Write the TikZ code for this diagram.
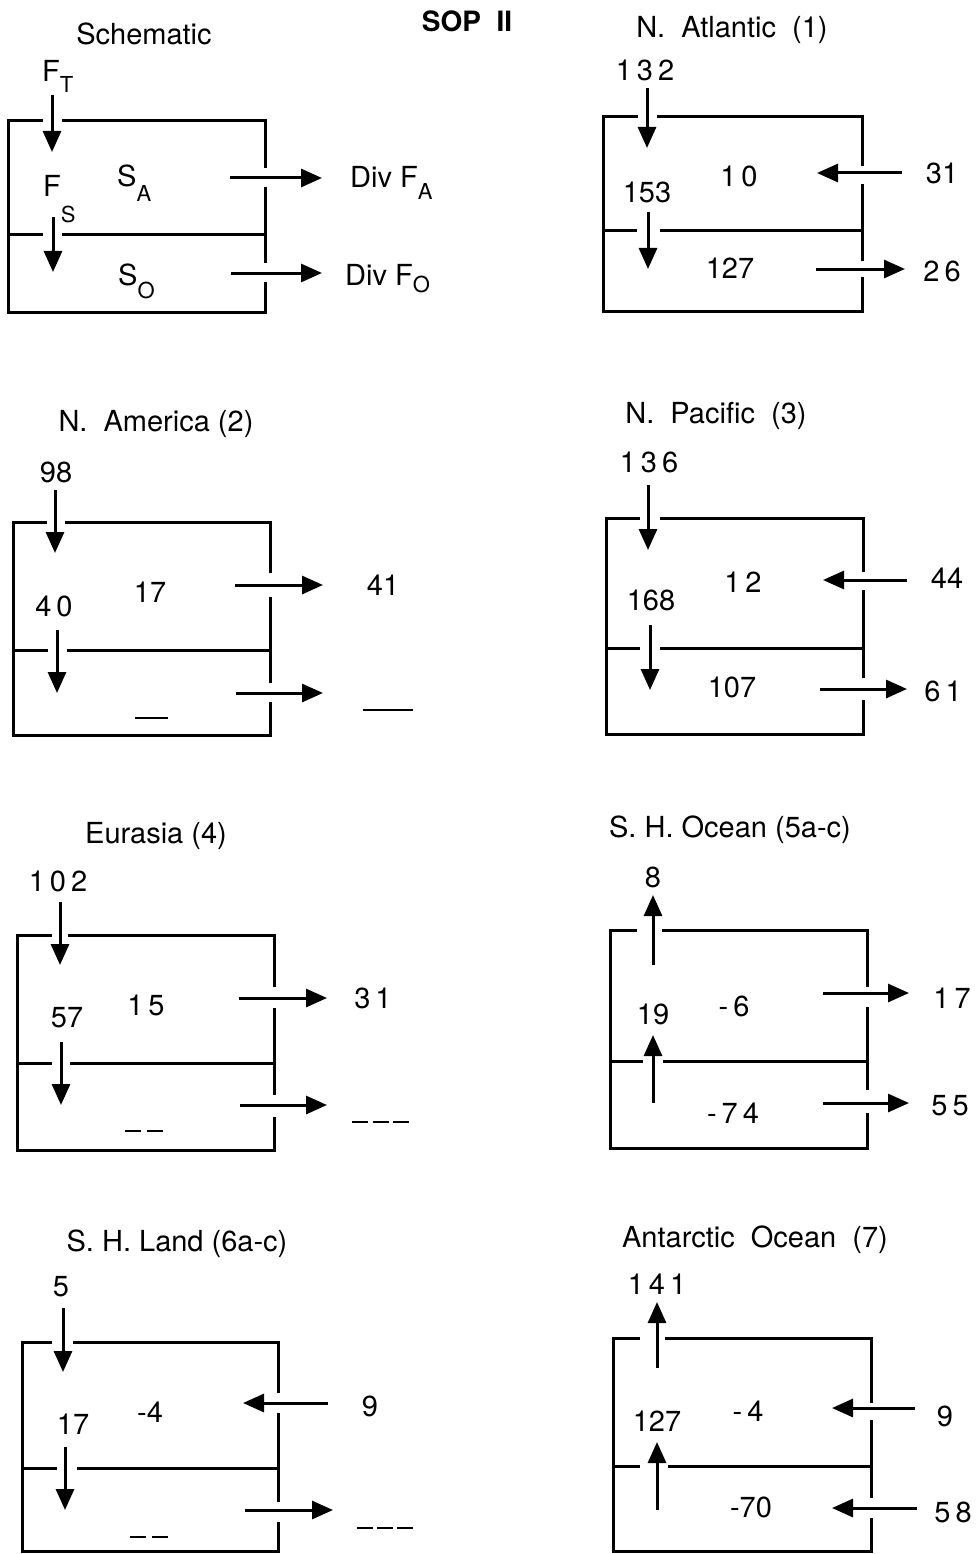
\documentclass[tikz,border=0pt]{standalone}
\usepackage{fontspec}
\setmainfont{TeX Gyre Heros}
\usetikzlibrary{arrows.meta}
\newcommand\gp{\hspace{5pt}}
\newcommand\sbx[2]{\raisebox{-#1}{\fontsize{22}{24}\selectfont #2}}
\newcommand\farrow[3]{\coordinate (#1a) at #2; \coordinate (#1b) at #3; \draw[arr] (#1a) -- (#1b);}
\begin{document}
\begin{tikzpicture}[x=1pt,y=-1pt,
  boxl/.style={line width=3pt},
  arr/.style={line width=3pt,-{Triangle[length=21pt,width=18pt]}},
  lab/.style={inner sep=0pt,font=\fontsize{29}{33}\selectfont},
  ttl/.style={inner sep=0pt,anchor=base,font=\fontsize{29}{33}\selectfont},
  dsh/.style={line width=1.8pt}]
\useasboundingbox (0,0) rectangle (979,1554);

% ---------- Title
\node[ttl,font=\fontsize{28}{32}\selectfont\bfseries] (sop) at (467,32) {SOP\ \ II};

% ---------- Panel 1: Schematic
\node[ttl] (t1) at (144,45) {Schematic};
\draw[boxl] (43,121) -| (8,312) -| (265,282);
\draw[boxl] (62,121) -| (265,168);
\draw[boxl] (265,187) -- (265,263);
\draw[boxl] (8,235) -- (43,235) (62,235) -- (265,235);
\node[lab,anchor=base west] (ft) at (42,82) {F\sbx{11pt}{T}};
\node[lab,anchor=base west] (fs) at (43,197) {F\sbx{25pt}{S}};
\node[lab,anchor=base west] (sa) at (117,187) {S\sbx{15pt}{A}};
\node[lab,anchor=base west] (so) at (118,285) {S\sbx{13pt}{O}};
\node[lab,anchor=base west] (dfa) at (350,188) {Div F\sbx{12pt}{A}};
\node[lab,anchor=base west] (dfo) at (345,285) {Div F\sbx{7pt}{O}};
\farrow{p1d1}{(52,95)}{(52,152)}
\farrow{p1d2}{(53,217)}{(53,272)}
\farrow{p1r1}{(230,178)}{(322,178)}
\farrow{p1r2}{(231,273)}{(322,273)}

% ---------- Panel 2: N. Atlantic
\node[ttl] (t2) at (732,38) {N.\ \ Atlantic\ \ (1)};
\draw[boxl] (638,117) -| (603,311) -| (862,277);
\draw[boxl] (657,117) -| (862,166);
\draw[boxl] (862,184) -- (862,261);
\draw[boxl] (603,231) -- (637,231) (660,231) -- (862,231);
\node[lab] (n132) at (645,70) {1\gp3\gp2};
\node[lab] (n153) at (647,192) {153};
\node[lab] (n10) at (739,176) {1\gp0};
\node[lab] (n127a) at (730,268) {127};
\node[lab] (n31a) at (942,173) {31};
\node[lab] (n26) at (942,271) {2\gp6};
\farrow{p2d1}{(647,88)}{(647,148)}
\farrow{p2d2}{(648,212)}{(648,269)}
\farrow{p2l1}{(902,173)}{(817,173)}
\farrow{p2r2}{(816,269)}{(905,269)}

% ---------- Panel 3: N. America
\node[ttl] (t3) at (156,431) {N.\ \ America (2)};
\draw[boxl] (47,522) -| (13,735) -| (270,702);
\draw[boxl] (65,522) -| (270,573);
\draw[boxl] (270,597) -- (270,683);
\draw[boxl] (13,650) -- (48,650) (67,650) -- (270,650);
\node[lab] (n98) at (56,472) {98};
\node[lab] (n40) at (54,606) {4\gp0};
\node[lab] (n17a) at (150,592) {17};
\node[lab] (n41) at (383,585) {41};
\coordinate (d3a) at (135,718); \coordinate (d3b) at (168,718);
\draw[dsh] (d3a) -- (d3b);
\coordinate (d3c) at (363,710); \coordinate (d3d) at (413,710);
\draw[dsh] (d3c) -- (d3d);
\farrow{p3d1}{(55,490)}{(55,553)}
\farrow{p3d2}{(57,630)}{(57,693)}
\farrow{p3r1}{(235,585)}{(323,585)}
\farrow{p3r2}{(236,693)}{(323,693)}

% ---------- Panel 4: N. Pacific
\node[ttl] (t4) at (716,423) {N.\ \ Pacific\ \ (3)};
\draw[boxl] (640,518) -| (606,734) -| (863,700);
\draw[boxl] (660,518) -| (863,572);
\draw[boxl] (863,590) -- (863,678);
\draw[boxl] (606,648) -- (640,648) (660,648) -- (863,648);
\node[lab] (n136) at (649,462) {1\gp3\gp6};
\node[lab] (n168) at (651,600) {168};
\node[lab] (n12) at (743,582) {1\gp2};
\node[lab] (n107) at (732,687) {107};
\node[lab] (n44) at (947,578) {44};
\node[lab] (n61) at (943,691) {6\gp1};
\farrow{p4d1}{(648,485)}{(648,550)}
\farrow{p4d2}{(650,625)}{(650,690)}
\farrow{p4l1}{(907,580)}{(823,580)}
\farrow{p4r2}{(820,689)}{(907,689)}

% ---------- Panel 5: Eurasia
\node[ttl] (t5) at (156,843) {Eurasia (4)};
\draw[boxl] (52,935) -| (17,1150) -| (274,1117);
\draw[boxl] (68,935) -| (274,987);
\draw[boxl] (274,1008) -- (274,1095);
\draw[boxl] (17,1063) -- (52,1063) (70,1063) -- (274,1063);
\node[lab] (n102) at (58,881) {1\gp0\gp2};
\node[lab] (n57) at (67,1018) {57};
\node[lab] (n15) at (146,1005) {1\gp5};
\node[lab] (n31b) at (373,998) {3\gp1};
\coordinate (d5a) at (125,1131); \coordinate (d5b) at (163,1131);
\draw[dsh,dash pattern=on 16pt off 6pt] (d5a) -- (d5b);
\coordinate (d5c) at (352,1122); \coordinate (d5d) at (409,1122);
\draw[dsh,dash pattern=on 16pt off 4.5pt] (d5c) -- (d5d);
\farrow{p5d1}{(60,902)}{(60,965)}
\farrow{p5d2}{(61,1042)}{(61,1105)}
\farrow{p5r1}{(239,998)}{(327,998)}
\farrow{p5r2}{(240,1105)}{(327,1105)}

% ---------- Panel 6: S. H. Ocean
\node[ttl] (t6) at (730,837) {S. H. Ocean (5a-c)};
\draw[boxl] (637,930) -| (610,1148) -| (867,1113);
\draw[boxl] (662,930) -| (867,987);
\draw[boxl] (867,1007) -- (867,1090);
\draw[boxl] (610,1061) -- (643,1061) (663,1061) -- (867,1061);
\node[lab] (n8) at (653,877) {8};
\node[lab] (n19) at (653,1014) {19};
\node[lab] (nm6) at (734,1006) {-\gp6};
\node[lab] (nm74) at (733,1113) {-\gp7\gp4};
\node[lab] (n17b) at (952,998) {1\gp7};
\node[lab] (n55) at (950,1106) {5\gp5};
\farrow{p6u1}{(653,965)}{(653,895)}
\farrow{p6u2}{(653,1103)}{(653,1035)}
\farrow{p6r1}{(823,993)}{(909,993)}
\farrow{p6r2}{(823,1103)}{(909,1103)}

% ---------- Panel 7: S. H. Land
\node[ttl] (t7) at (177,1251) {S. H. Land (6a-c)};
\draw[boxl] (52,1342) -| (22,1551) -| (278,1522);
\draw[boxl] (73,1342) -| (278,1393);
\draw[boxl] (278,1413) -- (278,1502);
\draw[boxl] (22,1468) -- (57,1468) (77,1468) -- (278,1468);
\node[lab] (n5) at (61,1287) {5};
\node[lab] (n17c) at (73,1424) {17};
\node[lab] (nm4a) at (150,1412) {-4};
\node[lab] (n9a) at (370,1406) {9};
\coordinate (d7a) at (130,1537); \coordinate (d7b) at (168,1537);
\draw[dsh,dash pattern=on 16pt off 6pt] (d7a) -- (d7b);
\coordinate (d7c) at (357,1528); \coordinate (d7d) at (413,1528);
\draw[dsh,dash pattern=on 16pt off 4pt] (d7c) -- (d7d);
\farrow{p7d1}{(63,1308)}{(63,1372)}
\farrow{p7d2}{(65,1447)}{(65,1510)}
\farrow{p7l1}{(328,1403)}{(243,1403)}
\farrow{p7r2}{(245,1510)}{(333,1510)}

% ---------- Panel 8: Antarctic Ocean
\node[ttl] (t8) at (755,1247) {Antarctic\ \ Ocean\ \ (7)};
\draw[boxl] (640,1338) -| (613,1551) -| (871,1518);
\draw[boxl] (665,1338) -| (871,1403);
\draw[boxl] (871,1420) -- (871,1498);
\draw[boxl] (613,1466) -- (640,1466) (668,1466) -- (871,1466);
\node[lab] (n141) at (657,1284) {1\gp4\gp1};
\node[lab] (n127b) at (657,1421) {127};
\node[lab] (nm4b) at (748,1411) {-\gp4};
\node[lab] (nm70) at (751,1507) {-70};
\node[lab] (n9b) at (945,1416) {9};
\node[lab] (n58) at (953,1512) {5\gp8};
\farrow{p8u1}{(657,1368)}{(657,1302)}
\farrow{p8u2}{(657,1510)}{(657,1442)}
\farrow{p8l1}{(915,1408)}{(832,1408)}
\farrow{p8l2}{(917,1508)}{(832,1508)}
\end{tikzpicture}
\end{document}
